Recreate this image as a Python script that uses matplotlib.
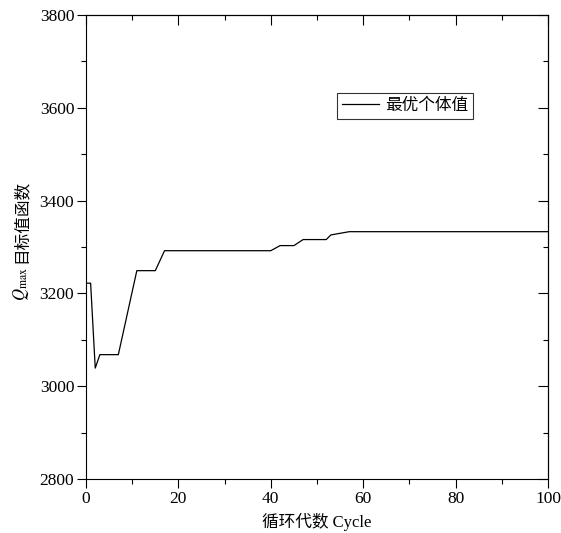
import numpy as np
import matplotlib
matplotlib.use('Agg')
import matplotlib.pyplot as plt
from matplotlib.ticker import MultipleLocator

plt.rcParams['font.family'] = ['Liberation Serif', 'Noto Sans CJK SC']
plt.rcParams['mathtext.fontset'] = 'stix'

# best individual value per cycle
cycle = [0, 1, 2, 3, 7, 11, 15, 17, 40, 42, 45, 47, 52, 53, 57, 100]
best = [3222, 3222, 3039, 3068, 3068, 3249, 3249, 3292, 3292, 3303, 3303,
        3316, 3316, 3326, 3333, 3333]

W, H = 561, 533
fig = plt.figure(figsize=(W / 100, H / 100), dpi=100)
ax = fig.add_axes([0.1533, 0.1013, 0.8235, 0.8706])

ax.plot(cycle, best, color='black', linewidth=0.9, label='最优个体值')

ax.set_xlim(0, 100)
ax.set_ylim(2800, 3800)
ax.xaxis.set_major_locator(MultipleLocator(20))
ax.xaxis.set_minor_locator(MultipleLocator(10))
ax.yaxis.set_major_locator(MultipleLocator(200))
ax.yaxis.set_minor_locator(MultipleLocator(100))
ax.tick_params(which='major', direction='out', length=6.5, width=0.8,
               labelsize=12.5, pad=2)
ax.tick_params(which='minor', direction='out', length=3.5, width=0.8)

# top and right ticks point inwards
top = ax.secondary_xaxis('top')
right = ax.secondary_yaxis('right')
for sec, axis in ((top, top.xaxis), (right, right.yaxis)):
    step = 20 if sec is top else 200
    axis.set_major_locator(MultipleLocator(step))
    axis.set_minor_locator(MultipleLocator(step / 2))
    sec.tick_params(which='major', direction='in', length=7, width=0.8,
                    labelleft=False, labelright=False, labeltop=False,
                    labelbottom=False)
    sec.tick_params(which='minor', direction='in', length=3.5, width=0.8)
    for sp in sec.spines.values():
        sp.set_linewidth(0.8)

for sp in ax.spines.values():
    sp.set_linewidth(0.8)

# axis titles (placed by hand so the CJK glyphs and mathtext can mix)
fig.text(317 / W, 1 - 522 / H, '循环代数 Cycle', fontsize=12,
         ha='center', va='center')
fig.text(22 / W, 1 - 221 / H, '目标值函数', fontsize=12, rotation=90,
         ha='center', va='center')
fig.text(21 / W, 1 - 284 / H, r'$Q_{\rm max}$', fontsize=12, rotation=90,
         ha='center', va='center')

leg = ax.legend(loc='upper left', bbox_to_anchor=(0.543, 0.8325),
                borderaxespad=0, fontsize=12, frameon=True, fancybox=False,
                edgecolor='black', handlelength=2.2, handletextpad=0.4,
                borderpad=0.3)
leg.get_frame().set_linewidth(0.8)

fig.savefig('out.png', dpi=100)
